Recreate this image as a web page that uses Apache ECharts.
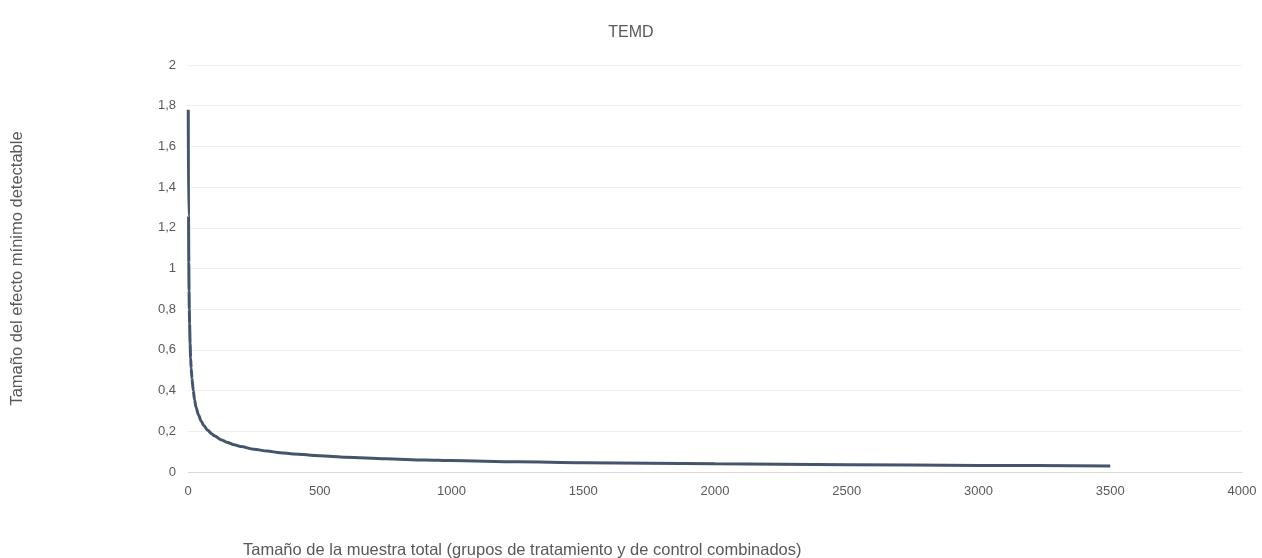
<!DOCTYPE html>
<html>
<head>
<meta charset="utf-8">
<script src="https://cdn.jsdelivr.net/npm/echarts@6/dist/echarts.min.js"></script>
<style>html,body{margin:0;padding:0;background:#fff}#c{width:1262px;height:558px}</style>
</head>
<body>
<div id="c"></div>
<script>
const sampleSizes = [1, 2, 3, 4, 5, 6, 8, 10, 12, 15, 20, 25, 30, 40, 50, 60, 75, 90, 100, 125, 150, 175, 200, 250, 300, 350, 400, 500, 600, 750, 900, 1000, 1250, 1500, 1750, 2000, 2500, 3000, 3500];
const mdeValues   = [1.78, 1.26, 1.03, 0.89, 0.80, 0.73, 0.63, 0.56, 0.51, 0.46, 0.40, 0.355, 0.32, 0.28, 0.25, 0.228, 0.205, 0.188, 0.178, 0.159, 0.145, 0.134, 0.125, 0.112, 0.103, 0.095, 0.089, 0.080, 0.073, 0.065, 0.059, 0.056, 0.050, 0.046, 0.043, 0.040, 0.036, 0.032, 0.030];
const chartTitle = 'TEMD';
const xTitle = 'Tamaño de la muestra total (grupos de tratamiento y de control combinados)';
const yTitle = 'Tamaño del efecto mínimo detectable';

const chart = echarts.init(document.getElementById('c'));
const font = 'Liberation Sans, Arial, sans-serif';
chart.setOption({
  animation: false,
  title: [
    { text: chartTitle, left: 'center', top: 20, textStyle: { fontFamily: font, fontSize: 16, fontWeight: 'normal', color: '#595959' } },
    { text: xTitle, left: 238, top: 537, textStyle: { fontFamily: font, fontSize: 16.5, fontWeight: 'normal', color: '#595959' } }
  ],
  grid: { left: 188, right: 20, top: 65, bottom: 86, containLabel: false },
  xAxis: {
    type: 'value', min: 0, max: 4000, interval: 500,
    axisLine: { show: true, lineStyle: { color: '#d9d9d9', width: 1 } },
    axisTick: { show: false },
    splitLine: { show: false },
    axisLabel: { color: '#595959', fontFamily: font, fontSize: 13, margin: 13,
      formatter: v => String(v) }
  },
  yAxis: {
    type: 'value', min: 0, max: 2, interval: 0.2,
    name: yTitle, nameLocation: 'middle', nameGap: 162, nameRotate: 90,
    nameTextStyle: { color: '#595959', fontFamily: font, fontSize: 16.5 },
    axisLine: { show: false },
    axisTick: { show: false },
    splitLine: { lineStyle: { color: '#efefef', width: 1 } },
    axisLabel: { color: '#595959', fontFamily: font, fontSize: 13, margin: 12,
      formatter: v => String(Math.round(v * 10) / 10).replace('.', ',') }
  },
  series: [{
    type: 'line',
    data: sampleSizes.map((n, i) => [n, mdeValues[i]]),
    smooth: 0.3, smoothMonotone: 'x',
    showSymbol: false,
    lineStyle: { color: '#44546a', width: 3 },
    itemStyle: { color: '#44546a' }
  }]
});
</script>
</body>
</html>
